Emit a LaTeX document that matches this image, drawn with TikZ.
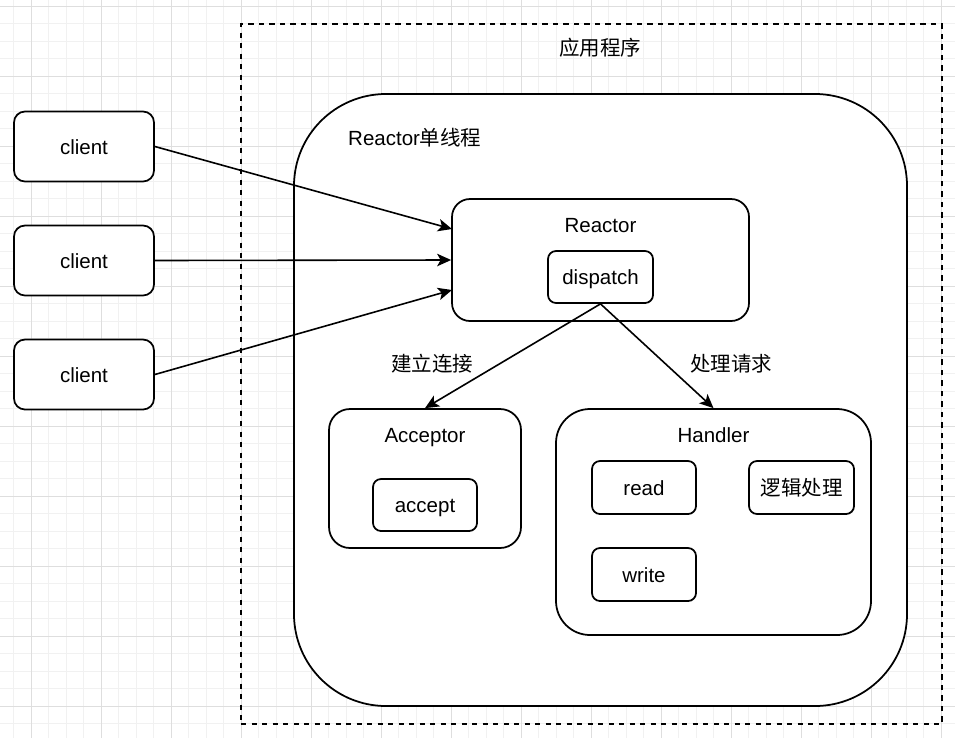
\documentclass[tikz,border=0pt]{standalone}
\usepackage{fontspec}
\setmainfont{Liberation Sans}
\newfontfamily\cjk{Noto Sans CJK SC}
\usepackage{tikz}
\usetikzlibrary{positioning, arrows.meta, calc}

\definecolor{gridminor}{HTML}{F1F1F1}
\definecolor{gridmajor}{HTML}{DEDEDE}
\newcommand{\dfont}{\fontsize{20.5pt}{24pt}\selectfont}

\begin{document}
\begin{tikzpicture}[
        x=1pt, y=-1pt,
        >={Stealth[length=14pt, width=12.5pt, inset=3.5pt]}, % Arrow style
        % Define node styles
        panel/.style={draw, line width=1.75pt, rectangle, rounded corners=#1, fill=white, inner sep=0pt},
        client/.style={panel=11pt, minimum width=140pt, minimum height=70pt, font=\dfont, text height=15.4pt, text depth=0pt},
        op/.style={panel=8pt, minimum width=104pt, minimum height=52pt, font=\dfont, text height=15.4pt, text depth=0pt},
        frame/.style={draw, line width=1.75pt, dash pattern=on 5.25pt off 5.25pt, rectangle, inner sep=0pt},
        caption/.style={font=\dfont, inner sep=0pt, text height=15.4pt, text depth=0pt},
        link/.style={line width=1.6pt, ->}
    ]

    % --- Canvas & grid ---
    \useasboundingbox (0,0) rectangle (955,737);
    \fill[white] (0,0) rectangle (955,737);
    \begin{scope}
        \clip (0,0) rectangle (955,737);
        \begin{scope}[x=1pt, y=1pt, shift={(31.3pt,-6pt)}]
            \draw[gridminor, line width=1pt, step=17.5pt] (-70,-770) grid (980,70);
            \draw[gridmajor, line width=1pt, step=70pt] (-70,-770) grid (980,70);
        \end{scope}
    \end{scope}

    % --- Application frame ---
    \node[frame, minimum width=701pt, minimum height=700pt] (app) at (591.5,374) {};
    \node[caption] (app title) at (600,48) {\cjk 应用程序};

    % --- Reactor thread ---
    \node[panel=92pt, minimum width=613pt, minimum height=612pt] (thread) at (600.5,400) {};
    \node[caption, anchor=west] (thread title) at (348,138) {Reactor{\cjk 单线程}};

    % Reactor with dispatch
    \node[panel=18pt, minimum width=297pt, minimum height=122pt] (reactor) at (600.5,260) {};
    \node[caption] (reactor title) at (600.5,225) {Reactor};
    \node[op, minimum width=105pt] (dispatch) at (600.5,277) {dispatch};

    % Acceptor
    \node[panel=21pt, minimum width=192pt, minimum height=139pt] (acceptor) at (425,478.5) {};
    \node[caption] (acceptor title) at (425,435) {Acceptor};
    \node[op] (accept) at (425,505) {accept};

    % Handler
    \node[panel=34pt, minimum width=315pt, minimum height=226pt] (handler) at (713.5,522) {};
    \node[caption] (handler title) at (713.5,435) {Handler};
    \node[op, minimum height=53pt] (read) at (644,487.5) {read};
    \node[op, minimum width=105pt, minimum height=53pt] (logic) at (801.5,487.5) {\cjk 逻辑处理};
    \node[op, minimum height=53pt] (write) at (644,574.5) {write};

    % --- Clients ---
    \node[client] (client1) at (84,146.5) {client};
    \node[client, below=42.25pt of client1] (client2) {client};
    \node[client, below=42.25pt of client2] (client3) {client};

    % --- Connecting Lines ---
    \coordinate (in1) at (452,229);
    \coordinate (in3) at (452,290);
    \draw[link] (client1.east) -- (in1);
    \draw[link] (client2.east) -- (reactor.west);
    \draw[link] (client3.east) -- (in3);

    % dispatch to Acceptor / Handler
    \draw[link] (dispatch.south) -- (acceptor.north);
    \draw[link] (dispatch.south) -- (handler.north);
    \node[caption] (connect label) at (432,364) {\cjk 建立连接};
    \node[caption] (handle label) at (731,364) {\cjk 处理请求};

\end{tikzpicture}
\end{document}
